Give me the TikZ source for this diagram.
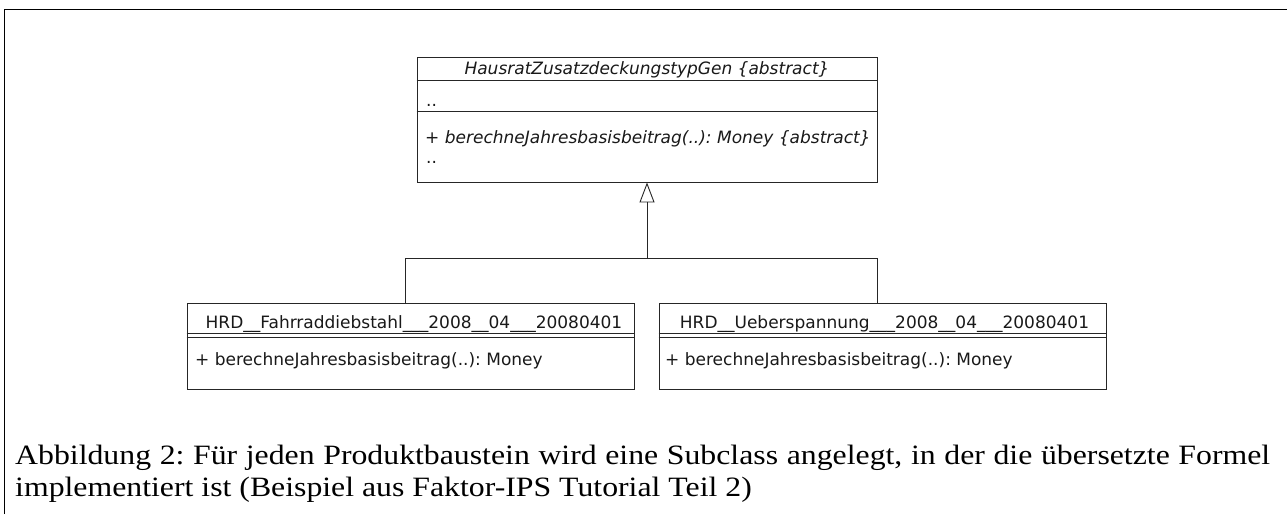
\documentclass[tikz,border=0pt]{standalone}
\usepackage{fontspec}
\setmainfont{Liberation Serif}
\newfontfamily\capfont[FakeStretch=1.135]{Liberation Serif}
\newfontfamily\umlfont{DejaVu Sans}
\usetikzlibrary{arrows.meta}
\frenchspacing
\begin{document}
\begin{tikzpicture}[x=1pt,y=-1pt,
  umlbox/.style={draw=black!85, line width=0.9pt, inner sep=0pt},
  umlline/.style={draw=black!85, line width=0.9pt},
  umltext/.style={font=\umlfont\fontsize{17}{20}\selectfont, inner sep=0pt, text=black!90},
  captext/.style={font=\capfont\fontsize{28}{32}\selectfont, inner sep=0pt, anchor=base west}]
\useasboundingbox (0,0) rectangle (1287,514);
\fill[white] (0,0) rectangle (1287,514);
\draw[line width=1pt] (4,514) -- (4,9) -- (1287,9);

% abstract superclass
\node[umlbox, minimum width=460pt, minimum height=125pt] (top) at (647,119.5) {};
\draw[umlline] (top.west |- 0,80) -- (top.east |- 0,80);
\draw[umlline] (top.west |- 0,111) -- (top.east |- 0,111);
\node[umltext, anchor=base] (toptitle) at (647,74) {\itshape HausratZusatzdeckungstypGen \{abstract\}};
\node[umltext, anchor=base west] (topattr) at (426,106) {..};
\node[umltext, anchor=base west] (topop) at (425,143) {\itshape + berechneJahresbasisbeitrag(..): Money \{abstract\}};
\node[umltext, anchor=base west] (topop2) at (426,163) {..};

% subclasses
\node[umlbox, minimum width=447pt, minimum height=86pt] (lcls) at (410.5,346) {};
\draw[umlline] (lcls.west |- 0,333) -- (lcls.east |- 0,333);
\draw[umlline] (lcls.west |- 0,337) -- (lcls.east |- 0,337);
\node[umltext, anchor=base] (ltitle) at (414,328) {HRD\_\_Fahrraddiebstahl\_\_\_2008\_\_04\_\_\_20080401};
\node[umltext, anchor=base west] (lop) at (195,365) {+ berechneJahresbasisbeitrag(..): Money};

\node[umlbox, minimum width=447pt, minimum height=86pt] (rcls) at (882.5,346) {};
\draw[umlline] (rcls.west |- 0,333) -- (rcls.east |- 0,333);
\draw[umlline] (rcls.west |- 0,337) -- (rcls.east |- 0,337);
\node[umltext, anchor=base] (rtitle) at (884.5,328) {HRD\_\_Ueberspannung\_\_\_2008\_\_04\_\_\_20080401};
\node[umltext, anchor=base west] (rop) at (665,365) {+ berechneJahresbasisbeitrag(..): Money};

% generalization
\coordinate (j) at (647,258);
\draw[umlline] ([xshift=-5.5pt]lcls.north) |- (j);
\draw[umlline] ([xshift=-5.5pt]rcls.north) |- (j);
\draw[umlline, -{Triangle[open, length=20pt, width=15pt, line width=0.9pt]}] (j) -- (top.south);

% caption
\node[captext] (cap1) at (15,464) {\makebox[1255pt][s]{Abbildung 2: Für jeden Produktbaustein wird eine Subclass angelegt, in der die übersetzte Formel}};
\node[captext] (cap2) at (15,496) {implementiert ist (Beispiel aus Faktor-IPS Tutorial Teil 2)};
\end{tikzpicture}
\end{document}
